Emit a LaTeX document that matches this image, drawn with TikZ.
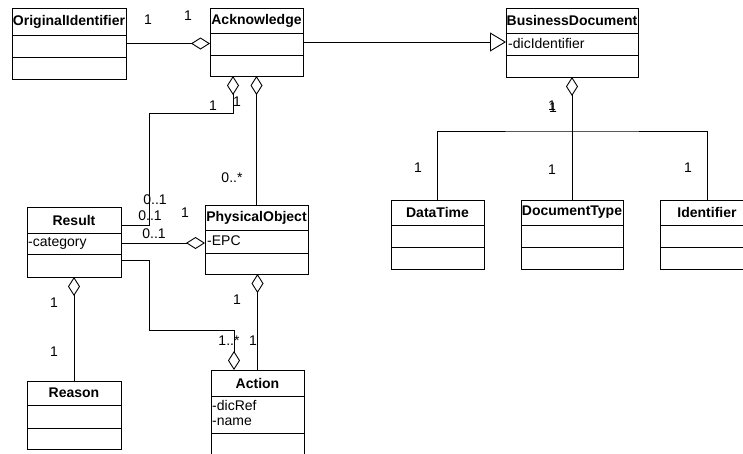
\documentclass[tikz,border=0pt]{standalone}
\usepackage{fontspec}
\setmainfont{Liberation Sans}
\usetikzlibrary{arrows.meta,calc}
\tikzset{
  ln/.style={line width=0.9pt, draw=black},
  cls/.style={ln, rectangle, inner sep=0pt, outer sep=0pt, fill=white},
  ttl/.style={font=\fontsize{14}{16}\selectfont\bfseries, inner sep=0pt},
  attr/.style={font=\fontsize{14}{16}\selectfont, inner sep=0pt, anchor=west},
  lab/.style={font=\fontsize{14}{16}\selectfont, inner sep=0pt},
  agg/.style={ln, -{Diamond[open, length=19pt, width=12pt, line width=0.9pt]}},
  gen/.style={ln, -{Triangle[open, length=16pt, width=19pt, line width=0.9pt]}}
}
\newcommand\umlcls[8]{%
  \node[cls, anchor=north west, minimum width={(#4)-(#2)}, minimum height={(#5)-(#3)}] (#1) at (#2,#3) {};
  \draw[ln] (#2,#6) -- (#4,#6);
  \draw[ln] (#2,#7) -- (#4,#7);
  \node[ttl] at ({((#2)+(#4))/2},{((#3)+(#6))/2}) {#8};
}
\begin{document}
\begin{tikzpicture}[x=1pt, y=-1pt]
\useasboundingbox (0,0) rectangle (743,453);
% classes
\umlcls{orig}{12}{8}{126}{79}{35}{57}{OriginalIdentifier}
\umlcls{ack}{210}{8}{303}{76}{33}{55}{Acknowledge}
\umlcls{bus}{506}{8}{638}{77}{33}{55}{BusinessDocument}
\node[attr] (busa) at (508,43) {-dicIdentifier};
\umlcls{dt}{391}{200}{484}{269}{225}{247}{DataTime}
\umlcls{doc}{521}{200}{623}{269}{225}{247}{DocumentType}
\umlcls{idf}{660}{200}{754}{269}{225}{247}{Identifier}
\umlcls{res}{27}{207}{121}{277}{233}{254}{Result}
\node[attr] (resa) at (28,243) {-category};
\umlcls{phy}{205}{205}{308}{274}{230}{253}{PhysicalObject}
\node[attr] (phya) at (207,241) {-EPC};
\umlcls{rea}{27}{381}{121}{449}{405}{428}{Reason}
\umlcls{act}{211}{370}{304}{458}{396}{433}{Action}
\node[attr] (acta1) at (212,405) {-dicRef};
\node[attr] (acta2) at (212,422) {-name};
% helper coordinates
\coordinate (bj) at (572,131);
\coordinate (a1) at (233,113);
\coordinate (a2) at (149,113);
\coordinate (a3) at (149,225);
\coordinate (y243) at (0,243);
\coordinate (b1) at (149,260);
\coordinate (b2) at (149,330);
\coordinate (b3) at (234,330);
% connectors
\draw[agg] (orig.east) -- (orig.east -| ack.west);
\draw[gen] (ack.east) -- (ack.east -| bus.west);
\draw[agg] (bj) -- (bj |- bus.south);
\draw[ln] (dt.north) |- (bj) -| (idf.north);
\draw[ln] (doc.north) -- (bj);
\draw[agg] (res.east |- a3) -- (a3) -- (a2) -- (a1) -- (a1 |- ack.south);
\draw[agg] (phy.north) -- (phy.north |- ack.south);
\draw[agg] (res.east |- y243) -- (phy.west |- y243);
\draw[agg] (res.east |- b1) -- (b1) -- (b2) -- (b3) -- (b3 |- act.north);
\draw[agg] (act.north) -- (act.north |- phy.south);
\draw[agg] (rea.north) -- (rea.north |- res.south);
% labels
\node[lab] (l1) at (148,20) {1};
\node[lab] (l2) at (188,16) {1};
\node[lab] (l3) at (213,106) {1};
\node[lab] (l4) at (237,102) {1};
\node[lab] (l5) at (232,178) {0..*};
\node[lab] (l6) at (155,200) {0..1};
\node[lab] (l7) at (150,216) {0..1};
\node[lab] (l8) at (185,213) {1};
\node[lab] (l9) at (154,234) {0..1};
\node[lab] (l10) at (54,303) {1};
\node[lab] (l11) at (54,352) {1};
\node[lab] (l12) at (237,300) {1};
\node[lab] (l13) at (229,341) {1..*};
\node[lab] (l14) at (253,341) {1};
\node[lab] (l15) at (552,106) {1};
\node[lab] (l15b) at (553,108) {1};
\node[lab] (l16) at (418,168) {1};
\node[lab] (l17) at (552,170) {1};
\node[lab] (l18) at (688,168) {1};
\end{tikzpicture}
\end{document}
